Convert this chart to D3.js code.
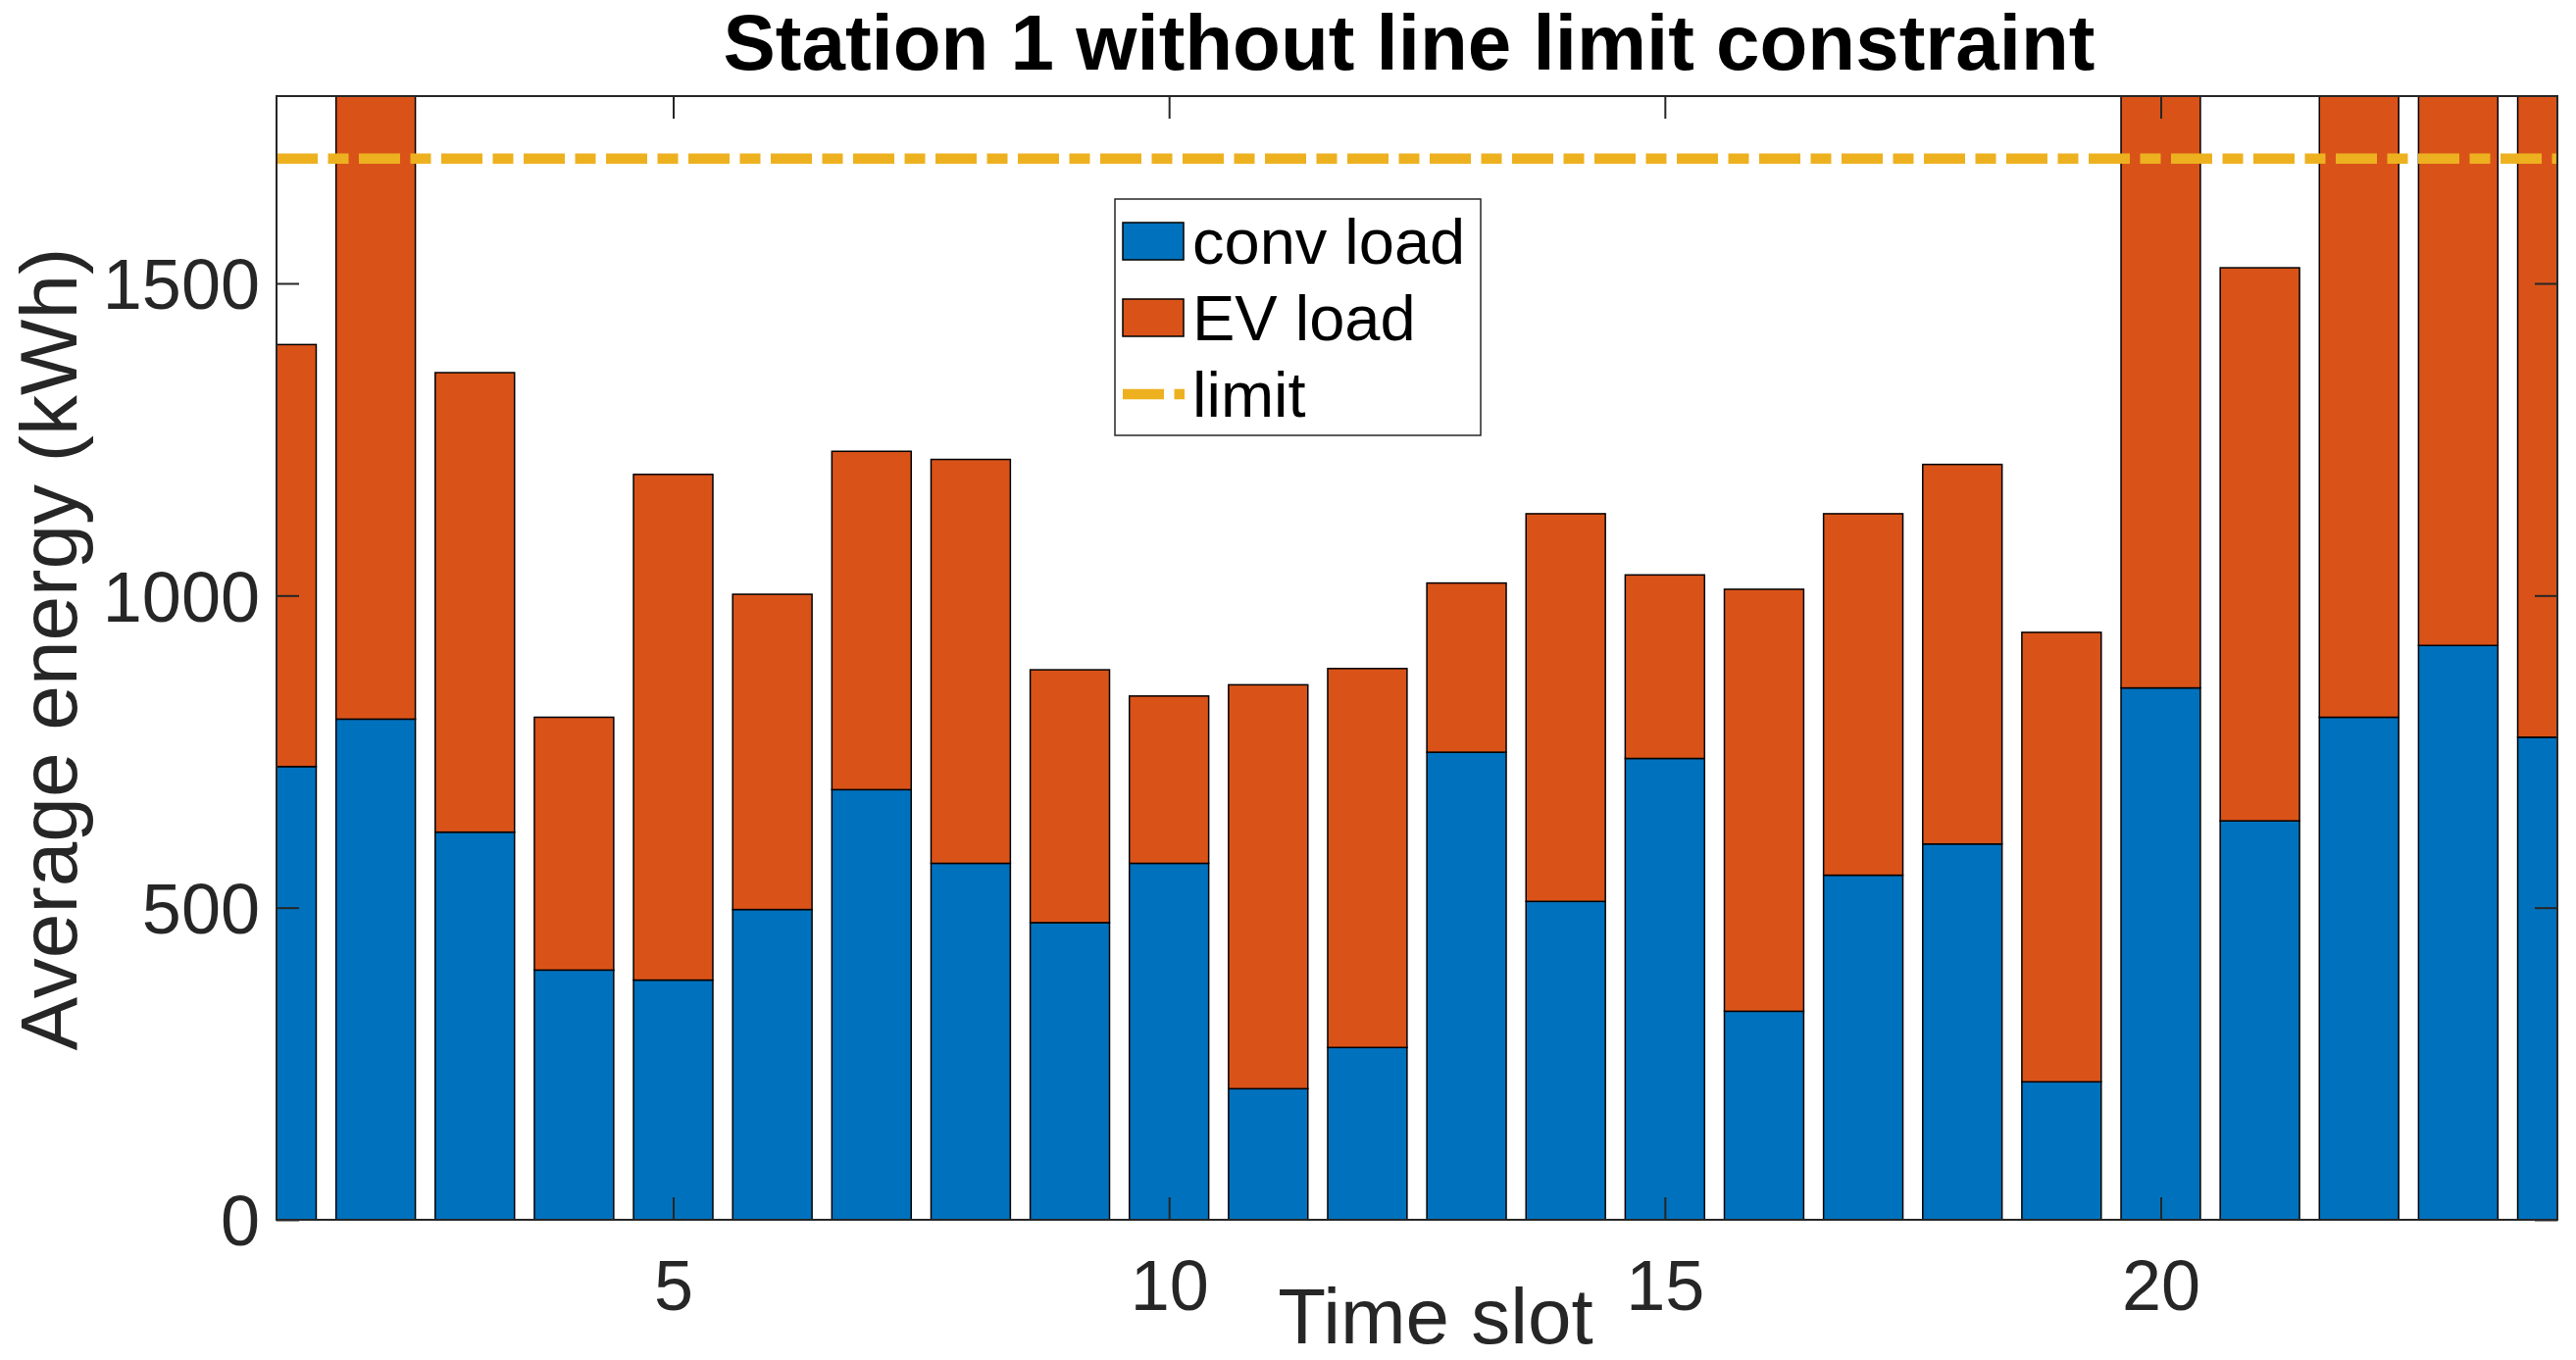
<!DOCTYPE html>
<html>
<head>
<meta charset="utf-8">
<script src="https://cdn.jsdelivr.net/npm/d3@7"></script>
<style>
  body { margin: 0; background: #fff; }
  text { font-family: "Liberation Sans", Arial, Helvetica, sans-serif; }
</style>
</head>
<body>
<script>
// data
const slots = d3.range(1, 25)
const convLoad = [726, 802, 621, 400, 384, 497, 689, 571, 476, 571, 210, 276,
                  749, 510, 739, 334, 552, 602, 221, 852, 639, 805, 920, 773]
const evLoad = [676, 1600, 736, 405, 810, 505, 542, 647, 405, 268, 647, 607,
                271, 621, 294, 676, 579, 608, 720, 1300, 886, 1250, 1150, 1200]
const limit = 1700
const yTicks = [0, 500, 1000, 1500]
const xTicks = [5, 10, 15, 20]
const seriesNames = ["conv load", "EV load", "limit"]
const colors = ["#0072BD", "#D95319", "#EDB120"]

//------------------------------------------------------------------------------

const W = 2627, H = 1387
const L = 282, R = 2608, T = 98, B = 1244
const axisColor = "#262626"

const svg = d3.select("body").append("svg")
    .attr("width", W)
    .attr("height", H)

const x = d3.scaleLinear().domain([1, 24]).range([L, R])
const y = d3.scaleLinear().domain([0, 1800]).range([B, T])
const barW = (x(2) - x(1)) * 0.8

svg.append("clipPath").attr("id", "plot-clip")
    .append("rect")
    .attr("x", L).attr("y", T)
    .attr("width", R - L).attr("height", B - T)

const plot = svg.append("g").attr("clip-path", "url(#plot-clip)")

const stacked = slots.map((s, i) => ({ s: s, conv: convLoad[i], ev: evLoad[i] }))

// conv load (bottom)
plot.selectAll(".conv")
    .data(stacked)
    .join("rect")
    .attr("class", "conv")
    .attr("x", d => x(d.s) - barW / 2)
    .attr("y", d => y(d.conv))
    .attr("width", barW)
    .attr("height", d => y(0) - y(d.conv))
    .attr("fill", colors[0])
    .attr("stroke", "#000")
    .attr("stroke-width", 1.5)

// EV load (on top)
plot.selectAll(".ev")
    .data(stacked)
    .join("rect")
    .attr("class", "ev")
    .attr("x", d => x(d.s) - barW / 2)
    .attr("y", d => y(d.conv + d.ev))
    .attr("width", barW)
    .attr("height", d => y(d.conv) - y(d.conv + d.ev))
    .attr("fill", colors[1])
    .attr("stroke", "#000")
    .attr("stroke-width", 1.5)

// limit line
plot.append("line")
    .attr("x1", x(1)).attr("x2", x(24))
    .attr("y1", y(limit)).attr("y2", y(limit))
    .attr("stroke", colors[2])
    .attr("stroke-width", 10.5)
    .attr("stroke-dasharray", "42 10.5 21 10.5")

//------------------------------------------------------------------------------

function styleAxis(g) {
    g.select(".domain").remove()
    g.selectAll(".tick line").attr("stroke", axisColor).attr("stroke-width", 2)
    g.selectAll(".tick text").attr("fill", axisColor).style("font-size", "72px")
}

svg.append("g")
    .attr("transform", "translate(" + L + ",0)")
    .call(d3.axisLeft(y).tickValues(yTicks).tickFormat(d3.format("d")).tickSize(-23).tickPadding(17))
    .call(styleAxis)
    .selectAll(".tick text").attr("dy", "0.36em")

svg.append("g")
    .attr("transform", "translate(" + R + ",0)")
    .call(d3.axisRight(y).tickValues(yTicks).tickSize(-23).tickFormat(""))
    .call(styleAxis)

svg.append("g")
    .attr("transform", "translate(0," + B + ")")
    .call(d3.axisBottom(x).tickValues(xTicks).tickFormat(d3.format("d")).tickSize(-23).tickPadding(41))
    .call(styleAxis)

svg.append("g")
    .attr("transform", "translate(0," + T + ")")
    .call(d3.axisTop(x).tickValues(xTicks).tickSize(-23).tickFormat(""))
    .call(styleAxis)

svg.append("rect")
    .attr("x", L).attr("y", T)
    .attr("width", R - L).attr("height", B - T)
    .attr("fill", "none")
    .attr("stroke", axisColor)
    .attr("stroke-width", 2)

//------------------------------------------------------------------------------

svg.append("text")
    .attr("x", 1437)
    .attr("y", 71)
    .attr("text-anchor", "middle")
    .attr("textLength", 1399)
    .attr("lengthAdjust", "spacingAndGlyphs")
    .style("font-size", "80px")
    .style("font-weight", "bold")
    .attr("fill", "#000")
    .text("Station 1 without line limit constraint")

svg.append("text")
    .attr("x", 1464)
    .attr("y", 1370)
    .attr("text-anchor", "middle")
    .style("font-size", "80px")
    .attr("fill", axisColor)
    .text("Time slot")

svg.append("text")
    .attr("transform", "translate(78,662) rotate(-90)")
    .attr("text-anchor", "middle")
    .style("font-size", "82px")
    .attr("fill", axisColor)
    .text("Average energy (kWh)")

//------------------------------------------------------------------------------

const leg = svg.append("g")

leg.append("rect")
    .attr("x", 1137).attr("y", 203)
    .attr("width", 373).attr("height", 241)
    .attr("fill", "#fff")
    .attr("stroke", axisColor)
    .attr("stroke-width", 1.5)

const rowY = [246, 324, 402]

seriesNames.forEach((name, i) => {
    if (i < 2) {
        leg.append("rect")
            .attr("x", 1145).attr("y", rowY[i] - 19)
            .attr("width", 62).attr("height", 38)
            .attr("fill", colors[i])
            .attr("stroke", "#000")
            .attr("stroke-width", 1.5)
    } else {
        leg.append("line")
            .attr("x1", 1145).attr("x2", 1208)
            .attr("y1", rowY[i]).attr("y2", rowY[i])
            .attr("stroke", colors[2])
            .attr("stroke-width", 10.5)
            .attr("stroke-dasharray", "42 10.5 21 10.5")
    }
    leg.append("text")
        .attr("x", 1216)
        .attr("y", rowY[i])
        .attr("dy", "0.36em")
        .style("font-size", "65px")
        .attr("fill", "#000")
        .text(name)
})
</script>
</body>
</html>
